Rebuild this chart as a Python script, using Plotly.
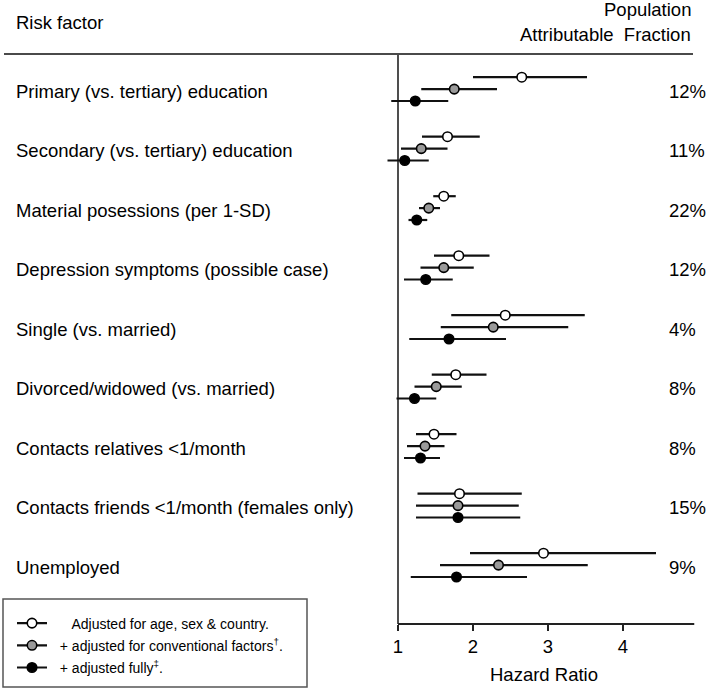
import plotly.graph_objects as go

# ---------------- data ----------------
factors = [
    "Primary (vs. tertiary) education",
    "Secondary (vs. tertiary) education",
    "Material posessions (per 1-SD)",
    "Depression symptoms (possible case)",
    "Single (vs. married)",
    "Divorced/widowed (vs. married)",
    "Contacts relatives <1/month",
    "Contacts friends <1/month (females only)",
    "Unemployed",
]
paf = ["12%", "11%", "22%", "12%", "4%", "8%", "8%", "15%", "9%"]

hr_age = [2.65, 1.66, 1.61, 1.81, 2.43, 1.77, 1.48, 1.82, 2.94]
lo_age = [2.00, 1.32, 1.47, 1.48, 1.71, 1.45, 1.24, 1.26, 1.96]
hi_age = [3.52, 2.09, 1.77, 2.22, 3.49, 2.18, 1.78, 2.65, 4.44]

hr_conv = [1.75, 1.31, 1.41, 1.61, 2.27, 1.51, 1.36, 1.80, 2.34]
lo_conv = [1.31, 1.04, 1.28, 1.30, 1.57, 1.22, 1.12, 1.24, 1.56]
hi_conv = [2.32, 1.66, 1.56, 2.01, 3.27, 1.85, 1.62, 2.61, 3.53]

hr_full = [1.23, 1.09, 1.25, 1.37, 1.68, 1.22, 1.30, 1.80, 1.78]
lo_full = [0.91, 0.86, 1.14, 1.08, 1.15, 0.98, 1.08, 1.24, 1.17]
hi_full = [1.67, 1.41, 1.39, 1.73, 2.44, 1.51, 1.56, 2.63, 2.72]

tick_vals = [1, 2, 3, 4]
NB = "\u00a0"
legend_names = [
    NB * 5 + "Adjusted for age, sex & country.",
    NB * 2 + "+ adjusted for conventional factors<sup>†</sup>.",
    NB * 2 + "+ adjusted fully<sup>‡</sup>.",
]

# ---------------- layout geometry ----------------
W, H = 706, 689
L, R, T, B = 383, 11, 54, 65
PW, PH = W - L - R, H - T - B


def px_x(p):
    return (p - L) / PW


def px_y(p):
    return (H - B - p) / PH


FONT = "Liberation Sans, Arial, Helvetica, sans-serif"
fig = go.Figure()

series = [
    (hr_age, lo_age, hi_age, -0.2, "white", legend_names[0]),
    (hr_conv, lo_conv, hi_conv, 0.0, "#9a9a9a", legend_names[1]),
    (hr_full, lo_full, hi_full, 0.2, "black", legend_names[2]),
]

for hr, lo, hi, off, fill, name in series:
    ys = [i + off for i in range(len(hr))]
    fig.add_trace(go.Scatter(
        x=hr, y=ys, mode="markers", showlegend=False,
        marker=dict(size=9.5, color=fill, line=dict(color="black", width=1.6)),
        error_x=dict(type="data", symmetric=False,
                     array=[h - c for h, c in zip(hi, hr)],
                     arrayminus=[c - l for c, l in zip(hr, lo)],
                     width=0, thickness=2.2, color="#111111"),
        hoverinfo="skip",
    ))

for k, (hr, lo, hi, off, fill, name) in enumerate(series):
    fig.add_trace(go.Scatter(
        x=[None], y=[None], mode="lines+markers", name=name, legendgroup=f"g{k}",
        line=dict(color="#111111", width=2.2),
        marker=dict(size=9.5, color=fill, line=dict(color="black", width=1.6)),
    ))

annotations = []
# header texts
annotations.append(dict(text="Risk factor", x=px_x(14), y=px_y(22), xref="paper", yref="paper",
                        xanchor="left", yanchor="middle", showarrow=False,
                        font=dict(size=18.5, color="black", family=FONT)))
annotations.append(dict(text="Population", x=px_x(693), y=px_y(10), xref="paper", yref="paper",
                        xanchor="right", yanchor="middle", showarrow=False,
                        font=dict(size=18.5, color="black", family=FONT)))
annotations.append(dict(text="Attributable\u00a0\u00a0Fraction", x=px_x(693), y=px_y(35),
                        xref="paper", yref="paper", xanchor="right", yanchor="middle",
                        showarrow=False, font=dict(size=18.5, color="black", family=FONT)))
# row labels and PAF
for i, (f, p) in enumerate(zip(factors, paf)):
    annotations.append(dict(text=f, x=px_x(14), y=i, xref="paper", yref="y",
                            xanchor="left", yanchor="middle", showarrow=False, yshift=-2,
                            font=dict(size=18.5, color="black", family=FONT)))
    annotations.append(dict(text=p, x=px_x(667), y=i, xref="paper", yref="y",
                            xanchor="left", yanchor="middle", showarrow=False, yshift=-2,
                            font=dict(size=18.5, color="black", family=FONT)))
# axis title
annotations.append(dict(text="Hazard Ratio", x=px_x(544), y=px_y(674), xref="paper", yref="paper",
                        xanchor="center", yanchor="middle", showarrow=False,
                        font=dict(size=18.5, color="black", family=FONT)))

shapes = [
    # header rule
    dict(type="line", xref="paper", yref="paper", x0=px_x(4), x1=px_x(693), y0=1, y1=1,
         line=dict(color="#4a4a4a", width=2.2)),
    # reference line at HR = 1
    dict(type="line", xref="x", yref="paper", x0=1, x1=1, y0=0, y1=1,
         line=dict(color="#222222", width=1.6), layer="below"),
    # bottom axis line
    dict(type="line", xref="x", yref="paper", x0=1, x1=4.95, y0=0, y1=0,
         line=dict(color="#222222", width=2)),
    # legend box
    dict(type="rect", xref="paper", yref="paper", x0=px_x(3), x1=px_x(307),
         y0=px_y(599), y1=px_y(687), line=dict(color="#555555", width=1.5),
         fillcolor="white", layer="below"),
]

fig.update_layout(
    width=W, height=H, autosize=False,
    margin=dict(l=L, r=R, t=T, b=B, autoexpand=False),
    plot_bgcolor="white", paper_bgcolor="white",
    font=dict(family=FONT, color="black"),
    xaxis=dict(range=[0.8, 4.96], tickvals=tick_vals, ticktext=[str(v) for v in tick_vals],
               showgrid=False, zeroline=False, showline=False, automargin=False,
               ticks="outside", ticklen=6, tickwidth=2, tickcolor="#222222",
               ticklabelstandoff=0,
               tickfont=dict(size=18.5, color="black", family=FONT)),
    yaxis=dict(range=[8.99, -0.59], showgrid=False, zeroline=False, showline=False,
               automargin=False, showticklabels=False, ticks=""),
    showlegend=True,
    legend=dict(x=px_x(12), y=px_y(607.5), xanchor="left", yanchor="top",
                bgcolor="rgba(0,0,0,0)", borderwidth=0,
                font=dict(size=14, color="black", family=FONT),
                traceorder="grouped", tracegroupgap=1, itemsizing="trace"),
    annotations=annotations,
    shapes=shapes,
)

fig.write_html("out.html", config={"displayModeBar": False},
               post_script="document.body.style.margin='0px';")
